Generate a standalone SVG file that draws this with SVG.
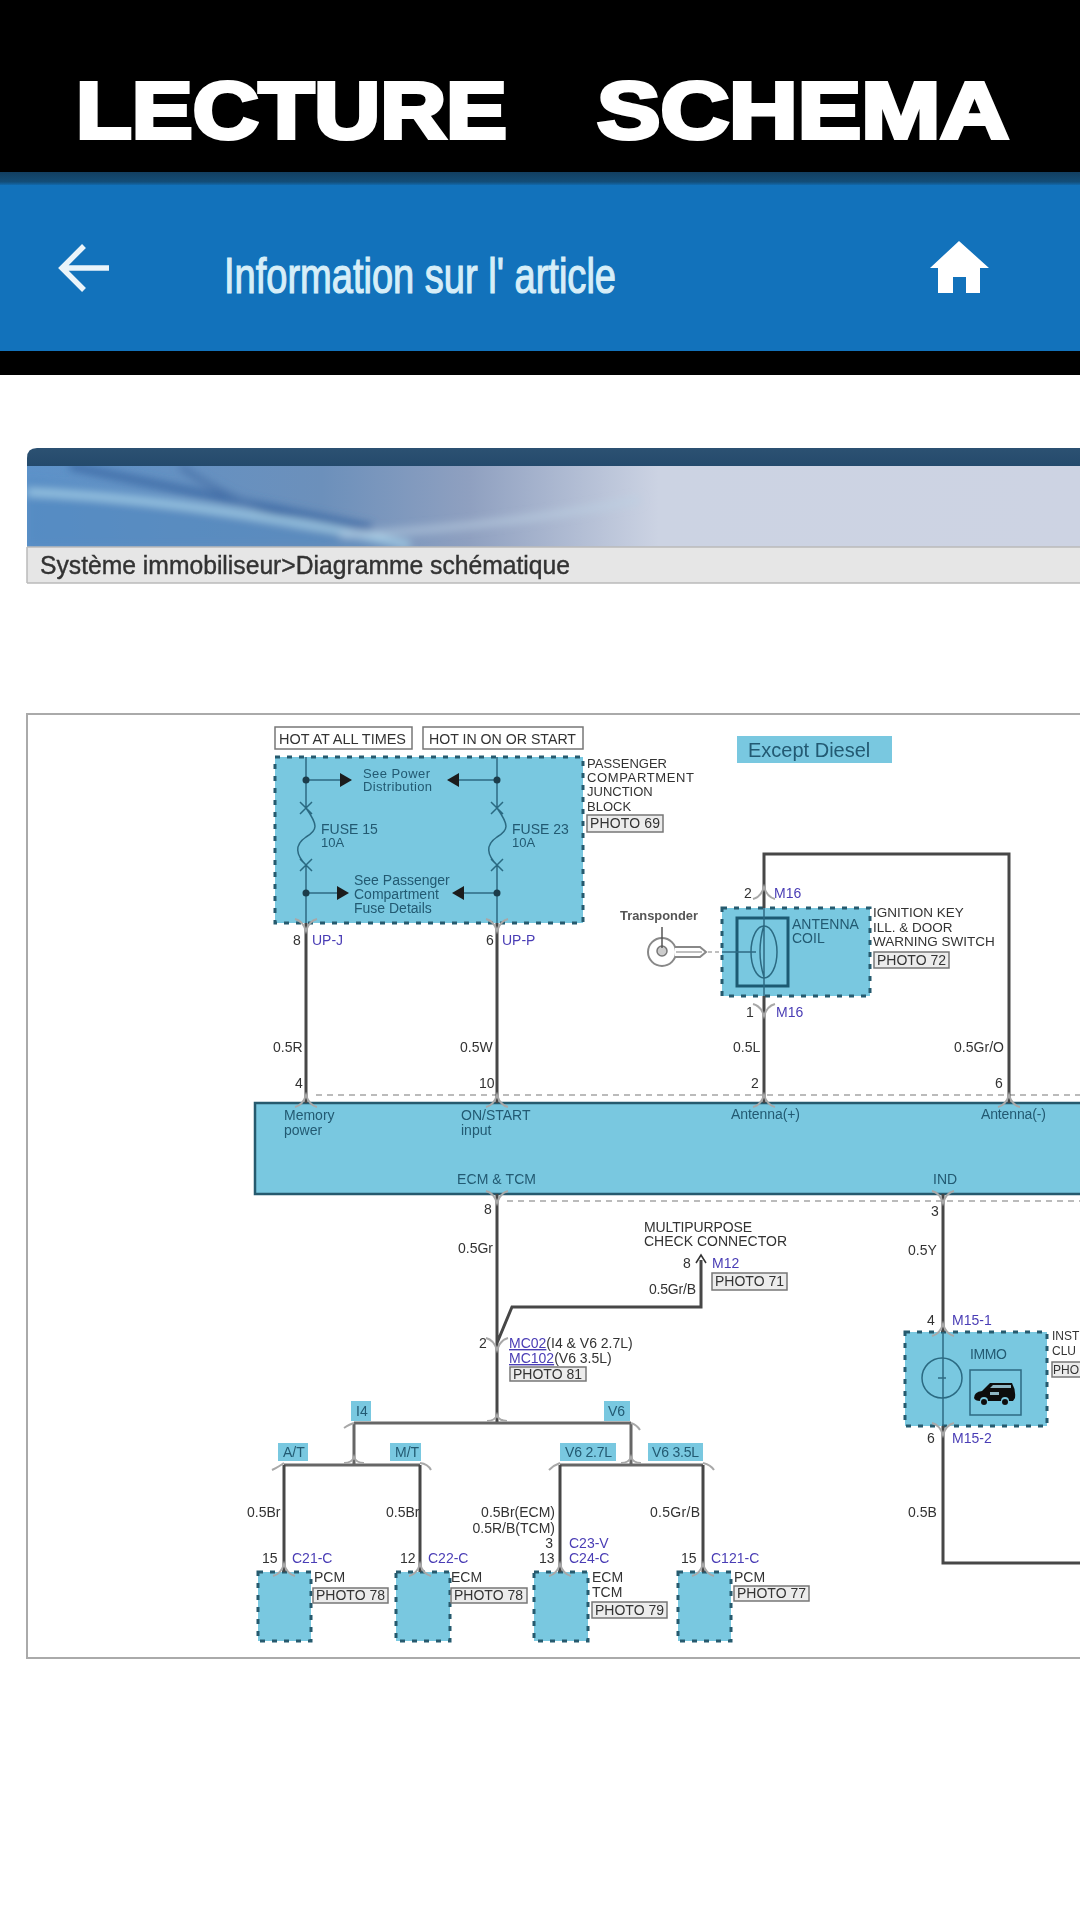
<svg xmlns="http://www.w3.org/2000/svg" xmlns:xlink="http://www.w3.org/1999/xlink" width="1080" height="1920" viewBox="0 0 1080 1920">
<style>
text{font-family:"Liberation Sans",Arial,sans-serif;font-size:14px;fill:#333}
.t{fill:#235a72}
.c{fill:#4a3db5;font-size:14px}
.u{text-decoration:underline}
.wire{fill:none;stroke:#474747;stroke-width:3}
.thin{fill:none;stroke:#2c6a82;stroke-width:1.5}
.blk{fill:#79c8e0;stroke:#275a6e;stroke-width:3;stroke-dasharray:5 7}
.tag{fill:#79c8e0}
.photo{fill:#ececec;stroke:#777;stroke-width:1.5}
.chev{fill:none;stroke:#a8a8a8;stroke-width:2}
.dash{fill:none;stroke:#bbb;stroke-width:2;stroke-dasharray:6 5}
</style>
<defs>
<linearGradient id="bar" x1="0" y1="0" x2="0" y2="1"><stop offset="0" stop-color="#123f60"/><stop offset=".7" stop-color="#134d78"/><stop offset="1" stop-color="#1272bb"/></linearGradient>
<linearGradient id="ban" x1="0" y1="0" x2="1" y2="0"><stop offset="0" stop-color="#5d92c9"/><stop offset=".28" stop-color="#6c90bb"/><stop offset=".42" stop-color="#8fa0c0"/><stop offset=".6" stop-color="#ccd3e3"/><stop offset="1" stop-color="#cdd3e3"/></linearGradient>
<linearGradient id="band" x1="0" y1="0" x2="0" y2="1"><stop offset="0" stop-color="#2c5172"/><stop offset="1" stop-color="#244a6c"/></linearGradient>
<filter id="soft" x="-5%" y="-5%" width="110%" height="110%"><feGaussianBlur stdDeviation="0.6"/></filter>
<filter id="soft3" x="-5%" y="-20%" width="110%" height="140%"><feGaussianBlur stdDeviation="4"/></filter>
<clipPath id="banclip"><rect x="27" y="466" width="1053" height="81"/></clipPath>
<path id="chevU" class="chev" d="M-11 7Q-3 5 0-5Q3 5 11 7"/>
<path id="chevD" class="chev" d="M-11-7Q-3-5 0 5Q3-5 11-7"/>
<path id="ar" fill="#1b1b1b" d="M0 0L-12-7V7Z"/>
</defs>

<g id="app-header">
<rect width="1080" height="375" fill="#000"/>
<rect y="172" width="1080" height="14" fill="url(#bar)"/>
<rect y="185" width="1080" height="166" fill="#1272bb"/>
<text x="76" y="138" textLength="431" lengthAdjust="spacingAndGlyphs" style="font-size:79px;fill:#fff;stroke:#fff;stroke-width:4;font-weight:700">LECTURE</text>
<text x="597" y="138" textLength="412" lengthAdjust="spacingAndGlyphs" style="font-size:79px;fill:#fff;stroke:#fff;stroke-width:4;font-weight:700">SCHEMA</text>
<path d="M109 268H62M84 246L62 268L84 290" fill="none" stroke="#eaf4fa" stroke-width="5.5"/>
<text x="224" y="293" textLength="392" lengthAdjust="spacingAndGlyphs" style="font-size:50px;fill:#d6eef8;stroke:#d6eef8;stroke-width:1.2">Information sur l' article</text>
<path d="M959 241L989 268H980V293H966V277H953V293H938V268H930Z" fill="#fff"/>
</g>

<g id="banner">
<path d="M27 466V458Q27 448 37 448H1080V466Z" fill="url(#band)"/>
<rect x="27" y="466" width="1053" height="81" fill="url(#ban)"/>
<g clip-path="url(#banclip)" filter="url(#soft3)">
<path d="M27 480Q200 500 410 547H27Z" fill="#4f86bf" opacity=".55"/>
<path d="M70 466Q230 500 372 528" fill="none" stroke="#3c6aa5" stroke-width="7"/>
<path d="M180 466Q240 510 345 535" fill="none" stroke="#4b74aa" stroke-width="6"/>
<path d="M27 492Q200 500 410 545" fill="none" stroke="#a7d3ea" stroke-width="6"/>
<path d="M340 535Q480 530 640 500" fill="none" stroke="#bcd0e2" stroke-width="6" opacity=".7"/>
</g>
<rect x="27" y="547" width="1053" height="36" fill="#e6e6e6"/>
<path d="M27 547H1080M27 583H1080M27 547V583" fill="none" stroke="#bbb" stroke-width="1.5"/>
<text x="40" y="574" textLength="530" lengthAdjust="spacingAndGlyphs" filter="url(#soft)" style="font-size:25px;fill:#333;stroke:#333;stroke-width:.4">Système immobiliseur&gt;Diagramme schématique</text>
</g>

<rect id="frame" x="27" y="714" width="1070" height="944" fill="#fff" stroke="#aaa" stroke-width="2"/>

<g filter="url(#soft)">
<g id="ecm-tcm">
<rect x="255" y="1103" width="840" height="91" fill="#79c8e0" stroke="#275a6e" stroke-width="2.5"/>
<text class="t" x="284" y="1120">Memory</text><text class="t" x="284" y="1135">power</text>
<text class="t" x="461" y="1120">ON/START</text><text class="t" x="461" y="1135">input</text>
<text class="t" x="731" y="1119" textLength="69">Antenna(+)</text>
<text class="t" x="981" y="1119" textLength="65">Antenna(-)</text>
<text class="t" x="457" y="1184" textLength="79">ECM &amp; TCM</text>
<text class="t" x="933" y="1184">IND</text>
</g>

<g id="junction-block">
<rect class="blk" x="275" y="757" width="308" height="166"/>
<path class="thin" d="M306 757V808C318 825 318 830 306 837C294 845 296 855 306 865V923M497 757V808C509 825 509 830 497 837C485 845 487 855 497 865V923M300 802L312 814M312 802L300 814M300 859L312 871M312 859L300 871M491 802L503 814M503 802L491 814M491 859L503 871M503 859L491 871M306 780H340M459 780H497M306 893H337M464 893H497"/>
<circle cx="306" cy="780" r="3.5" fill="#1b3e4c"/><circle cx="497" cy="780" r="3.5" fill="#1b3e4c"/><circle cx="306" cy="893" r="3.5" fill="#1b3e4c"/><circle cx="497" cy="893" r="3.5" fill="#1b3e4c"/>
<use xlink:href="#ar" href="#ar" x="352" y="780"/><use xlink:href="#ar" href="#ar" x="349" y="893"/>
<use xlink:href="#ar" href="#ar" transform="translate(447 780) scale(-1 1)"/><use xlink:href="#ar" href="#ar" transform="translate(452 893) scale(-1 1)"/>
<text class="t" x="363" y="778" style="font-size:13px" textLength="67">See Power</text><text class="t" x="363" y="791" style="font-size:13px" textLength="69">Distribution</text>
<text class="t" x="354" y="885">See Passenger</text><text class="t" x="354" y="899">Compartment</text><text class="t" x="354" y="913">Fuse Details</text>
<text class="t" x="321" y="834">FUSE 15</text><text class="t" x="321" y="847" style="font-size:13px">10A</text>
<text class="t" x="512" y="834">FUSE 23</text><text class="t" x="512" y="847" style="font-size:13px">10A</text>
</g>
<g id="hot-labels">
<rect x="275" y="727" width="137" height="22" fill="#fff" stroke="#777" stroke-width="1.5"/><text x="279" y="744" textLength="127" lengthAdjust="spacingAndGlyphs">HOT AT ALL TIMES</text>
<rect x="423" y="727" width="160" height="22" fill="#fff" stroke="#777" stroke-width="1.5"/><text x="429" y="744" textLength="147" lengthAdjust="spacingAndGlyphs">HOT IN ON OR START</text>
<text x="587" y="768" style="font-size:13px">PASSENGER</text><text x="587" y="782" style="font-size:13px" textLength="107">COMPARTMENT</text><text x="587" y="796" style="font-size:13px">JUNCTION</text><text x="587" y="811" style="font-size:13px">BLOCK</text>
<rect class="photo" x="587" y="815" width="76" height="17"/><text x="590" y="828" textLength="70">PHOTO 69</text>
</g>

<g id="except-diesel">
<rect class="tag" x="737" y="736" width="155" height="27"/>
<text x="748" y="757" style="font-size:20px;fill:#235a72">Except Diesel</text>
</g>

<g id="transponder">
<text x="620" y="920" textLength="78" lengthAdjust="spacingAndGlyphs" style="font-size:13px;font-weight:700;fill:#555">Transponder</text>
<circle cx="662" cy="952" r="14" fill="#fff" stroke="#888" stroke-width="2"/>
<circle cx="662" cy="951" r="5" fill="#ccc" stroke="#777" stroke-width="1.5"/>
<path d="M662 927V948" stroke="#555" stroke-width="1.5"/>
<path d="M675 947H700L706 952L700 957H675" fill="#fff" stroke="#888" stroke-width="2"/>
<path d="M676 952H702" stroke="#aaa" stroke-width="1.5"/>
<path d="M708 952H722" stroke="#aaa" stroke-width="1.5" stroke-dasharray="4 3"/>
</g>

<g id="antenna-coil">
<rect class="blk" x="722" y="908" width="148" height="88"/>
<rect x="737" y="918" width="51" height="68" fill="none" stroke="#1f5a72" stroke-width="3"/>
<ellipse cx="764" cy="952" rx="13" ry="26" class="thin" fill="none"/>
<path class="thin" d="M764 908V996M764 925Q756 952 764 977M722 952H756"/>
<text class="t" x="792" y="929">ANTENNA</text><text class="t" x="792" y="943">COIL</text>
<text x="873" y="917" style="font-size:13.5px">IGNITION KEY</text><text x="873" y="932" style="font-size:13.5px">ILL. &amp; DOOR</text><text x="873" y="946" style="font-size:13.5px">WARNING SWITCH</text>
<rect class="photo" x="874" y="952" width="75" height="16"/><text x="877" y="965" textLength="69">PHOTO 72</text>
</g>

<g id="immo">
<rect class="blk" x="905" y="1332" width="142" height="94"/>
<circle cx="942" cy="1378" r="20" class="thin" fill="none"/>
<path class="thin" d="M943 1332V1426M938 1378H946"/>
<text class="t" x="970" y="1359" textLength="37">IMMO</text>
<rect x="970" y="1370" width="51" height="45" fill="none" stroke="#2c6a82" stroke-width="1.5"/>
<path d="M974 1398Q974 1392 982 1391L990 1383H1012Q1016 1390 1015 1398L1013 1401H1009A4 4 0 0 0 1001 1401H988A4 4 0 0 0 980 1401Q975 1401 974 1398Z" fill="#111"/>
<circle cx="984" cy="1402" r="3" fill="#111"/><circle cx="1005" cy="1402" r="3" fill="#111"/>
<path d="M993 1385H1011V1388H990ZM990 1392H999V1395H990Z" fill="#8fb6c4"/>
<text x="1052" y="1340" style="font-size:12px">INST</text><text x="1052" y="1355" style="font-size:12px">CLU</text>
<rect class="photo" x="1052" y="1362" width="40" height="15"/><text x="1053" y="1374" style="font-size:12px">PHO</text>
</g>

<g id="pcm-1"><rect class="blk" x="258" y="1572" width="53" height="69"/><text x="314" y="1582">PCM</text><rect class="photo" x="313" y="1588" width="75" height="15"/><text x="316" y="1600" textLength="69">PHOTO 78</text></g>
<g id="ecm-1"><rect class="blk" x="396" y="1572" width="54" height="69"/><text x="451" y="1582">ECM</text><rect class="photo" x="451" y="1588" width="76" height="15"/><text x="454" y="1600" textLength="69">PHOTO 78</text></g>
<g id="ecm-tcm-2"><rect class="blk" x="534" y="1572" width="54" height="69"/><text x="592" y="1582">ECM</text><text x="592" y="1597">TCM</text><rect class="photo" x="592" y="1602" width="75" height="16"/><text x="595" y="1615" textLength="69">PHOTO 79</text></g>
<g id="pcm-2"><rect class="blk" x="678" y="1572" width="53" height="69"/><text x="734" y="1582">PCM</text><rect class="photo" x="734" y="1586" width="75" height="15"/><text x="737" y="1598" textLength="69">PHOTO 77</text></g>

<g id="tags">
<rect class="tag" x="351" y="1401" width="20" height="20"/><text class="t" x="356" y="1416">I4</text>
<rect class="tag" x="604" y="1401" width="26" height="20"/><text class="t" x="608" y="1416">V6</text>
<rect class="tag" x="278" y="1443" width="30" height="18"/><text class="t" x="283" y="1457">A/T</text>
<rect class="tag" x="390" y="1443" width="31" height="18"/><text class="t" x="395" y="1457">M/T</text>
<rect class="tag" x="560" y="1443" width="56" height="18"/><text class="t" x="565" y="1457" textLength="47">V6 2.7L</text>
<rect class="tag" x="648" y="1443" width="55" height="18"/><text class="t" x="652" y="1457" textLength="47">V6 3.5L</text>
</g>

<g id="connectors">
<path class="dash" d="M316 1095H1080M507 1201H1080"/>
<path class="wire" d="M306 923V1103M497 923V1103M764 908V854H1009V1103M764 996V1103"/>
<path class="wire" d="M497 1194V1423M497 1343L512 1307H701V1260"/>
<path d="M696 1263L701 1255L706 1263" fill="none" stroke="#333" stroke-width="1.5"/>
<path class="wire" style="stroke:#666" d="M354 1423H631M354 1423V1465M631 1423V1465M284 1465H420M560 1465H703"/>
<path class="wire" d="M284 1465V1572M420 1465V1572M560 1465V1572M703 1465V1572"/>
<path class="wire" d="M943 1194V1332M943 1426V1563H1080"/>
<use xlink:href="#chevU" href="#chevU" x="306" y="1100"/><use xlink:href="#chevU" href="#chevU" x="497" y="1100"/><use xlink:href="#chevU" href="#chevU" x="764" y="1100"/><use xlink:href="#chevU" href="#chevU" x="1009" y="1100"/>
<use xlink:href="#chevD" href="#chevD" x="306" y="926"/><use xlink:href="#chevD" href="#chevD" x="497" y="926"/>
<use xlink:href="#chevD" href="#chevD" x="497" y="1198"/><use xlink:href="#chevD" href="#chevD" x="943" y="1198"/>
<use xlink:href="#chevU" href="#chevU" x="764" y="892"/><use xlink:href="#chevD" href="#chevD" x="764" y="1011"/>
<use xlink:href="#chevD" href="#chevD" x="497" y="1345"/>
<use xlink:href="#chevU" href="#chevU" x="943" y="1329"/><use xlink:href="#chevD" href="#chevD" x="943" y="1430"/>
<use xlink:href="#chevU" href="#chevU" x="284" y="1569"/><use xlink:href="#chevU" href="#chevU" x="420" y="1569"/><use xlink:href="#chevU" href="#chevU" x="560" y="1569"/><use xlink:href="#chevU" href="#chevU" x="703" y="1569"/>
<path class="chev" d="M487 1421Q495 1421 497 1415Q499 1421 507 1421M344 1463Q352 1463 354 1457Q356 1463 364 1463M621 1463Q629 1463 631 1457Q633 1463 641 1463M272 1470Q280 1466 284 1463M420 1463Q428 1464 431 1470M560 1463Q554 1465 549 1470M703 1463Q711 1465 714 1470M354 1423Q350 1424 344 1428M631 1423Q637 1425 640 1430"/>
</g>

<g id="connector-labels">
<text x="293" y="945">8</text><text class="c" x="312" y="945">UP-J</text>
<text x="486" y="945">6</text><text class="c" x="502" y="945">UP-P</text>
<text x="273" y="1052">0.5R</text><text x="460" y="1052">0.5W</text><text x="733" y="1052">0.5L</text><text x="954" y="1052" textLength="50">0.5Gr/O</text>
<text x="295" y="1088">4</text><text x="479" y="1088">10</text><text x="751" y="1088">2</text><text x="995" y="1088">6</text>
<text x="744" y="898">2</text><text class="c" x="774" y="898">M16</text>
<text x="746" y="1017">1</text><text class="c" x="776" y="1017">M16</text>
<text x="484" y="1214">8</text><text x="458" y="1253">0.5Gr</text>
<text x="644" y="1232" textLength="108">MULTIPURPOSE</text><text x="644" y="1246" textLength="143">CHECK CONNECTOR</text>
<text x="683" y="1268">8</text><text class="c" x="712" y="1268">M12</text>
<rect class="photo" x="712" y="1273" width="75" height="17"/><text x="715" y="1286" textLength="69">PHOTO 71</text>
<text x="649" y="1294" textLength="47">0.5Gr/B</text>
<text x="479" y="1348">2</text>
<text x="509" y="1348"><tspan class="c u">MC02</tspan>(I4 &amp; V6 2.7L)</text>
<text x="509" y="1363"><tspan class="c u">MC102</tspan>(V6 3.5L)</text>
<rect class="photo" x="510" y="1367" width="76" height="14"/><text x="513" y="1379" textLength="69">PHOTO 81</text>
<text x="247" y="1517">0.5Br</text><text x="386" y="1517">0.5Br</text>
<text x="555" y="1517" text-anchor="end">0.5Br(ECM)</text><text x="555" y="1533" text-anchor="end">0.5R/B(TCM)</text>
<text x="650" y="1517" textLength="50">0.5Gr/B</text>
<text x="262" y="1563">15</text><text class="c" x="292" y="1563">C21-C</text>
<text x="400" y="1563">12</text><text class="c" x="428" y="1563">C22-C</text>
<text x="553" y="1548" text-anchor="end">3</text><text x="539" y="1563">13</text>
<text class="c" x="569" y="1548">C23-V</text><text class="c" x="569" y="1563">C24-C</text>
<text x="681" y="1563">15</text><text class="c" x="711" y="1563">C121-C</text>
<text x="931" y="1216">3</text><text x="908" y="1255">0.5Y</text>
<text x="927" y="1325">4</text><text class="c" x="952" y="1325">M15-1</text>
<text x="927" y="1443">6</text><text class="c" x="952" y="1443">M15-2</text>
<text x="908" y="1517">0.5B</text>
</g>
</g>
</svg>
